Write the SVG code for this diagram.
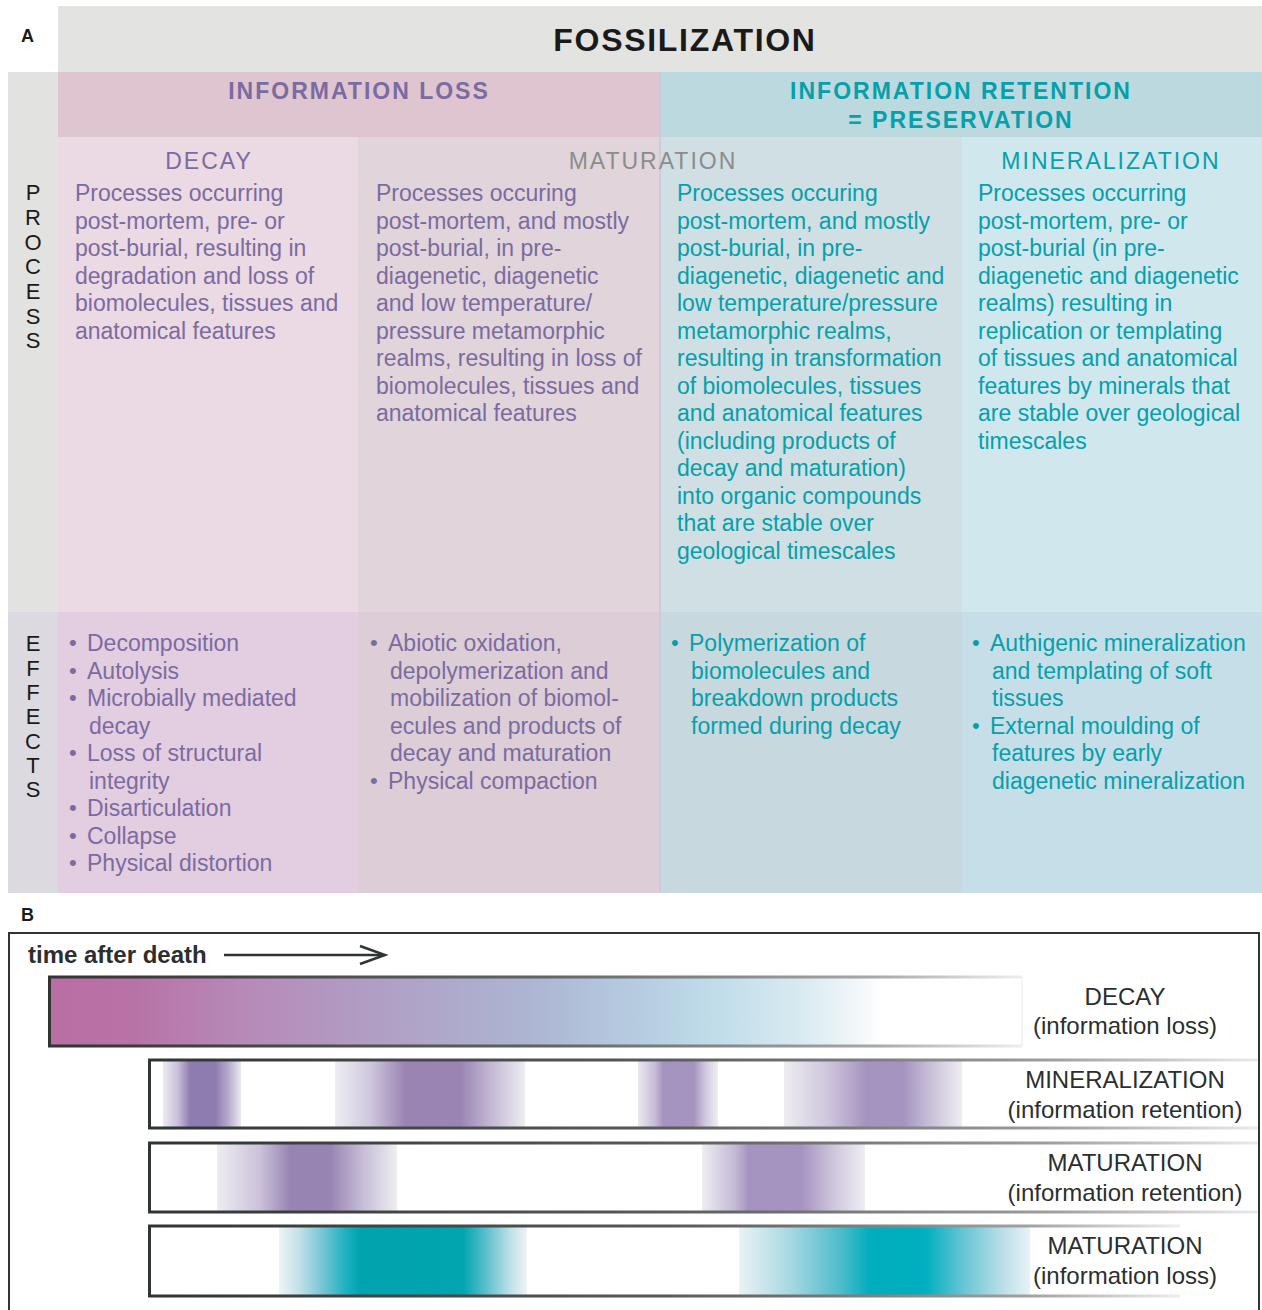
<svg xmlns="http://www.w3.org/2000/svg" width="1262" height="1310" viewBox="0 0 1262 1310">
<style>
text{font-family:"Liberation Sans",Arial,sans-serif}
.lbl{font-size:18px;font-weight:bold;fill:#1a1a1a}
.title{font-size:32px;font-weight:bold;fill:#1a1a1a;letter-spacing:1.7px}
.hdp{font-size:23px;font-weight:bold;fill:#7b6ba0;letter-spacing:2px}
.hdt{font-size:23px;font-weight:bold;fill:#05a0aa;letter-spacing:2px}
.colp{font-size:23px;fill:#7b6ba0;letter-spacing:2px}
.colg{font-size:23px;fill:#8c8c8c;letter-spacing:2px}
.colt{font-size:23px;fill:#05a0aa;letter-spacing:2px}
.bp{font-size:23px;fill:#7b6ba0}
.bt{font-size:23px;fill:#05a0aa}
.bul{font-size:22px}
.side{font-size:22px;fill:#1a1a1a}
.blbl{font-size:24px;fill:#2b2f2e}
.time{font-size:24px;font-weight:bold;fill:#2b2f2e}
</style>
<defs>
<linearGradient id="gDecay" gradientUnits="userSpaceOnUse" x1="0" y1="0" x2="1262" y2="0">
<stop offset="0.038" stop-color="#b96ea3"/>
<stop offset="0.107" stop-color="#b873a6"/>
<stop offset="0.198" stop-color="#b68bb8"/>
<stop offset="0.301" stop-color="#b09fc5"/>
<stop offset="0.420" stop-color="#adb5d2"/>
<stop offset="0.515" stop-color="#b6cfe2"/>
<stop offset="0.578" stop-color="#c3dfeb"/>
<stop offset="0.634" stop-color="#d8eaf1"/>
<stop offset="0.674" stop-color="#eef5f8"/>
<stop offset="0.700" stop-color="#ffffff"/>
</linearGradient>
<linearGradient id="gMin" gradientUnits="userSpaceOnUse" x1="0" y1="0" x2="1262" y2="0">
<stop offset="0.1292" stop-color="#ffffff"/>
<stop offset="0.1293" stop-color="#ebe9f0"/>
<stop offset="0.1410" stop-color="#c9c0da"/>
<stop offset="0.1506" stop-color="#8e7bb0"/>
<stop offset="0.1704" stop-color="#8e7bb0"/>
<stop offset="0.1807" stop-color="#b5a9cc"/>
<stop offset="0.1909" stop-color="#ebe9f0"/>
<stop offset="0.1910" stop-color="#ffffff"/>
<stop offset="0.2654" stop-color="#ffffff"/>
<stop offset="0.2655" stop-color="#eeedf2"/>
<stop offset="0.2932" stop-color="#d0c8de"/>
<stop offset="0.3209" stop-color="#9a84b3"/>
<stop offset="0.3645" stop-color="#9a84b3"/>
<stop offset="0.3883" stop-color="#c2b6d4"/>
<stop offset="0.4159" stop-color="#eeedf2"/>
<stop offset="0.4160" stop-color="#ffffff"/>
<stop offset="0.5054" stop-color="#ffffff"/>
<stop offset="0.5055" stop-color="#ebe9f0"/>
<stop offset="0.5190" stop-color="#c7bcd8"/>
<stop offset="0.5254" stop-color="#a694c0"/>
<stop offset="0.5499" stop-color="#a694c0"/>
<stop offset="0.5586" stop-color="#cfc6dd"/>
<stop offset="0.5688" stop-color="#efedf3"/>
<stop offset="0.5689" stop-color="#ffffff"/>
<stop offset="0.6211" stop-color="#ffffff"/>
<stop offset="0.6212" stop-color="#eeedf2"/>
<stop offset="0.6577" stop-color="#cdc3dc"/>
<stop offset="0.6862" stop-color="#a594c0"/>
<stop offset="0.7155" stop-color="#a594c0"/>
<stop offset="0.7409" stop-color="#cec6dc"/>
<stop offset="0.7622" stop-color="#efedf3"/>
<stop offset="0.7623" stop-color="#ffffff"/>
</linearGradient>
<linearGradient id="gMatR" gradientUnits="userSpaceOnUse" x1="0" y1="0" x2="1262" y2="0">
<stop offset="0.1719" stop-color="#ffffff"/>
<stop offset="0.1720" stop-color="#eeedf2"/>
<stop offset="0.2060" stop-color="#cbc2da"/>
<stop offset="0.2298" stop-color="#9884b3"/>
<stop offset="0.2615" stop-color="#9884b3"/>
<stop offset="0.2892" stop-color="#c9c0d9"/>
<stop offset="0.3145" stop-color="#eeedf2"/>
<stop offset="0.3146" stop-color="#ffffff"/>
<stop offset="0.5562" stop-color="#ffffff"/>
<stop offset="0.5563" stop-color="#eeedf2"/>
<stop offset="0.5824" stop-color="#c4b9d6"/>
<stop offset="0.5935" stop-color="#a593c0"/>
<stop offset="0.6347" stop-color="#a593c0"/>
<stop offset="0.6616" stop-color="#d0c8de"/>
<stop offset="0.6853" stop-color="#eeedf2"/>
<stop offset="0.6854" stop-color="#ffffff"/>
</linearGradient>
<linearGradient id="gMatL" gradientUnits="userSpaceOnUse" x1="0" y1="0" x2="1262" y2="0">
<stop offset="0.2210" stop-color="#ffffff"/>
<stop offset="0.2211" stop-color="#eef3f6"/>
<stop offset="0.2377" stop-color="#c0e0e8"/>
<stop offset="0.2536" stop-color="#7fc8d6"/>
<stop offset="0.2750" stop-color="#1ab0c0"/>
<stop offset="0.2853" stop-color="#00a3ae"/>
<stop offset="0.3669" stop-color="#00a5b0"/>
<stop offset="0.3883" stop-color="#6cc4d2"/>
<stop offset="0.4041" stop-color="#bde0e8"/>
<stop offset="0.4175" stop-color="#eef3f6"/>
<stop offset="0.4176" stop-color="#ffffff"/>
<stop offset="0.5855" stop-color="#ffffff"/>
<stop offset="0.5856" stop-color="#eaf2f5"/>
<stop offset="0.6260" stop-color="#a8d8e2"/>
<stop offset="0.6656" stop-color="#4fbccb"/>
<stop offset="0.6894" stop-color="#00adbd"/>
<stop offset="0.7338" stop-color="#00b0c0"/>
<stop offset="0.7607" stop-color="#5ec3d3"/>
<stop offset="0.7924" stop-color="#b5dde7"/>
<stop offset="0.8161" stop-color="#e8f2f6"/>
<stop offset="0.8162" stop-color="#ffffff"/>
</linearGradient>
<linearGradient id="bDecay" gradientUnits="userSpaceOnUse" x1="48" y1="0" x2="1022" y2="0">
<stop offset="0" stop-color="#2f3533"/>
<stop offset="0.5" stop-color="#5e6260"/>
<stop offset="0.85" stop-color="#a8a8a8"/>
<stop offset="1" stop-color="#eeeeee"/>
</linearGradient>
<linearGradient id="bLong" gradientUnits="userSpaceOnUse" x1="148" y1="0" x2="1258" y2="0">
<stop offset="0" stop-color="#2f3533"/>
<stop offset="0.45" stop-color="#555958"/>
<stop offset="0.8" stop-color="#9a9a9a"/>
<stop offset="1" stop-color="#eaeaea"/>
</linearGradient>
<linearGradient id="bShort" gradientUnits="userSpaceOnUse" x1="148" y1="0" x2="1180" y2="0">
<stop offset="0" stop-color="#2f3533"/>
<stop offset="0.5" stop-color="#555958"/>
<stop offset="0.85" stop-color="#a0a0a0"/>
<stop offset="1" stop-color="#eeeeee"/>
</linearGradient>
</defs>

<g id="panelA">
<text class="lbl" x="21" y="42">A</text>
<g id="header-fossilization">
<rect x="58" y="6" width="1204" height="66" fill="#e3e3e1"/>
<text class="title" x="685" y="51" text-anchor="middle">FOSSILIZATION</text>
</g>
<g id="side-process">
<rect x="8" y="72" width="50" height="540" fill="#e2e2e0"/>
<text class="side" text-anchor="middle">
<tspan x="33" y="200">P</tspan><tspan x="33" y="225">R</tspan><tspan x="33" y="250">O</tspan><tspan x="33" y="274">C</tspan><tspan x="33" y="299">E</tspan><tspan x="33" y="324">S</tspan><tspan x="33" y="348">S</tspan>
</text>
</g>
<g id="side-effects">
<rect x="8" y="612" width="50" height="281" fill="#dcdae0"/>
<text class="side" text-anchor="middle">
<tspan x="33" y="651">E</tspan><tspan x="33" y="676">F</tspan><tspan x="33" y="700">F</tspan><tspan x="33" y="724">E</tspan><tspan x="33" y="749">C</tspan><tspan x="33" y="773">T</tspan><tspan x="33" y="797">S</tspan>
</text>
</g>
<g id="header-loss">
<rect x="58" y="72" width="602" height="65" fill="#dec5d0"/>
<text class="hdp" x="359" y="99" text-anchor="middle">INFORMATION LOSS</text>
</g>
<g id="header-retention">
<rect x="660" y="72" width="602" height="65" fill="#bcd9e0"/>
<text class="hdt" x="961" y="99" text-anchor="middle">INFORMATION RETENTION</text>
<text class="hdt" x="961" y="128" text-anchor="middle">= PRESERVATION</text>
</g>

<g id="col-decay">
<rect x="58" y="137" width="300" height="475" fill="#ebd9e3"/>
<rect x="58" y="612" width="300" height="281" fill="#e3cde0"/>
<text class="colp" x="209" y="169" text-anchor="middle">DECAY</text>
<text class="bp">
<tspan x="75" y="201">Processes occurring</tspan>
<tspan x="75" y="228.5">post-mortem, pre- or</tspan>
<tspan x="75" y="256">post-burial, resulting in</tspan>
<tspan x="75" y="283.5">degradation and loss of</tspan>
<tspan x="75" y="311">biomolecules, tissues and</tspan>
<tspan x="75" y="338.5">anatomical features</tspan>
</text>
<text class="bp bul">
<tspan x="69" y="650">•</tspan><tspan x="69" y="677.5">•</tspan><tspan x="69" y="705">•</tspan><tspan x="69" y="760">•</tspan><tspan x="69" y="815">•</tspan><tspan x="69" y="842.5">•</tspan><tspan x="69" y="870">•</tspan>
</text>
<text class="bp">
<tspan x="87" y="651">Decomposition</tspan>
<tspan x="87" y="678.5">Autolysis</tspan>
<tspan x="87" y="706">Microbially mediated</tspan>
<tspan x="89" y="733.5">decay</tspan>
<tspan x="87" y="761">Loss of structural</tspan>
<tspan x="89" y="788.5">integrity</tspan>
<tspan x="87" y="816">Disarticulation</tspan>
<tspan x="87" y="843.5">Collapse</tspan>
<tspan x="87" y="871">Physical distortion</tspan>
</text>
</g>

<g id="col-maturation-loss">
<rect x="358" y="137" width="302" height="475" fill="#e1d4da"/>
<rect x="358" y="612" width="302" height="281" fill="#dccdd7"/>
<text class="bp">
<tspan x="376" y="201">Processes occuring</tspan>
<tspan x="376" y="228.5">post-mortem, and mostly</tspan>
<tspan x="376" y="256">post-burial, in pre-</tspan>
<tspan x="376" y="283.5">diagenetic, diagenetic</tspan>
<tspan x="376" y="311">and low temperature/</tspan>
<tspan x="376" y="338.5">pressure metamorphic</tspan>
<tspan x="376" y="366">realms, resulting in loss of</tspan>
<tspan x="376" y="393.5">biomolecules, tissues and</tspan>
<tspan x="376" y="421">anatomical features</tspan>
</text>
<text class="bp bul">
<tspan x="370" y="650">•</tspan><tspan x="370" y="787.5">•</tspan>
</text>
<text class="bp">
<tspan x="388" y="651">Abiotic oxidation,</tspan>
<tspan x="390" y="678.5">depolymerization and</tspan>
<tspan x="390" y="706">mobilization of biomol-</tspan>
<tspan x="390" y="733.5">ecules and products of</tspan>
<tspan x="390" y="761">decay and maturation</tspan>
<tspan x="388" y="788.5">Physical compaction</tspan>
</text>
</g>

<g id="col-maturation-retention">
<rect x="660" y="137" width="302" height="475" fill="#cfdfe3"/>
<rect x="660" y="612" width="302" height="281" fill="#c7d8df"/>
<text class="bt">
<tspan x="677" y="201">Processes occuring</tspan>
<tspan x="677" y="228.5">post-mortem, and mostly</tspan>
<tspan x="677" y="256">post-burial, in pre-</tspan>
<tspan x="677" y="283.5">diagenetic, diagenetic and</tspan>
<tspan x="677" y="311">low temperature/pressure</tspan>
<tspan x="677" y="338.5">metamorphic realms,</tspan>
<tspan x="677" y="366">resulting in transformation</tspan>
<tspan x="677" y="393.5">of biomolecules, tissues</tspan>
<tspan x="677" y="421">and anatomical features</tspan>
<tspan x="677" y="448.5">(including products of</tspan>
<tspan x="677" y="476">decay and maturation)</tspan>
<tspan x="677" y="503.5">into organic compounds</tspan>
<tspan x="677" y="531">that are stable over</tspan>
<tspan x="677" y="558.5">geological timescales</tspan>
</text>
<text class="bt bul"><tspan x="671" y="650">•</tspan></text>
<text class="bt">
<tspan x="689" y="651">Polymerization of</tspan>
<tspan x="691" y="678.5">biomolecules and</tspan>
<tspan x="691" y="706">breakdown products</tspan>
<tspan x="691" y="733.5">formed during decay</tspan>
</text>
</g>

<g id="col-mineralization">
<rect x="962" y="137" width="300" height="475" fill="#d0e7ee"/>
<rect x="962" y="612" width="300" height="281" fill="#c6dee8"/>
<text class="colt" x="1111" y="169" text-anchor="middle">MINERALIZATION</text>
<text class="bt">
<tspan x="978" y="201">Processes occurring</tspan>
<tspan x="978" y="228.5">post-mortem, pre- or</tspan>
<tspan x="978" y="256">post-burial (in pre-</tspan>
<tspan x="978" y="283.5">diagenetic and diagenetic</tspan>
<tspan x="978" y="311">realms) resulting in</tspan>
<tspan x="978" y="338.5">replication or templating</tspan>
<tspan x="978" y="366">of tissues and anatomical</tspan>
<tspan x="978" y="393.5">features by minerals that</tspan>
<tspan x="978" y="421">are stable over geological</tspan>
<tspan x="978" y="448.5">timescales</tspan>
</text>
<text class="bt bul"><tspan x="972" y="650">•</tspan><tspan x="972" y="732.5">•</tspan></text>
<text class="bt">
<tspan x="990" y="651">Authigenic mineralization</tspan>
<tspan x="992" y="678.5">and templating of soft</tspan>
<tspan x="992" y="706">tissues</tspan>
<tspan x="990" y="733.5">External moulding of</tspan>
<tspan x="992" y="761">features by early</tspan>
<tspan x="992" y="788.5">diagenetic mineralization</tspan>
</text>
</g>
<line x1="660" y1="72" x2="660" y2="893" stroke="#cbc6d8" stroke-width="1.5"/>
<text class="colg" x="653" y="169" text-anchor="middle">MATURATION</text>
</g>

<g id="panelB">
<text class="lbl" x="21" y="921">B</text>
<text class="time" x="28" y="963">time after death</text>

<g id="bar-decay">
<rect x="48" y="977" width="974" height="69" fill="url(#gDecay)"/>
<path d="M48,977 H1022 M48,1046 H1022" stroke="url(#bDecay)" stroke-width="3" fill="none"/>
<line x1="1022" y1="977" x2="1022" y2="1046" stroke="#f0f0f0" stroke-width="1.5"/>
<line x1="49.5" y1="976" x2="49.5" y2="1047" stroke="#2f3533" stroke-width="3"/>
<text class="blbl" x="1125" y="1005" text-anchor="middle">DECAY</text>
<text class="blbl" x="1125" y="1034" text-anchor="middle">(information loss)</text>
</g>

<g id="bar-mineralization">
<rect x="148" y="1060" width="1110" height="68" fill="url(#gMin)"/>
<path d="M148,1060 H1258 M148,1128 H1258" stroke="url(#bLong)" stroke-width="3" fill="none"/>
<line x1="149.5" y1="1059" x2="149.5" y2="1129" stroke="#2f3533" stroke-width="3"/>
<text class="blbl" x="1125" y="1088" text-anchor="middle">MINERALIZATION</text>
<text class="blbl" x="1125" y="1118" text-anchor="middle">(information retention)</text>
</g>

<g id="bar-maturation-retention">
<rect x="148" y="1143" width="1110" height="69" fill="url(#gMatR)"/>
<path d="M148,1143 H1258 M148,1212 H1258" stroke="url(#bLong)" stroke-width="3" fill="none"/>
<line x1="149.5" y1="1142" x2="149.5" y2="1213" stroke="#2f3533" stroke-width="3"/>
<text class="blbl" x="1125" y="1171" text-anchor="middle">MATURATION</text>
<text class="blbl" x="1125" y="1201" text-anchor="middle">(information retention)</text>
</g>

<g id="bar-maturation-loss">
<rect x="148" y="1226" width="1032" height="70" fill="url(#gMatL)"/>
<path d="M148,1226 H1180 M148,1296 H1180" stroke="url(#bShort)" stroke-width="3" fill="none"/>
<line x1="149.5" y1="1225" x2="149.5" y2="1297" stroke="#2f3533" stroke-width="3"/>
<text class="blbl" x="1125" y="1254" text-anchor="middle">MATURATION</text>
<text class="blbl" x="1125" y="1284" text-anchor="middle">(information loss)</text>
</g>
<path d="M9,1312 V933 H1259 V1312" fill="none" stroke="#2f3533" stroke-width="2"/>
</g>

<g id="connectors">
<line x1="224" y1="955" x2="383" y2="955" stroke="#2f3533" stroke-width="2.5"/>
<polyline points="360,946 385,955 360,964" fill="none" stroke="#2f3533" stroke-width="2.5"/>
</g>
</svg>
